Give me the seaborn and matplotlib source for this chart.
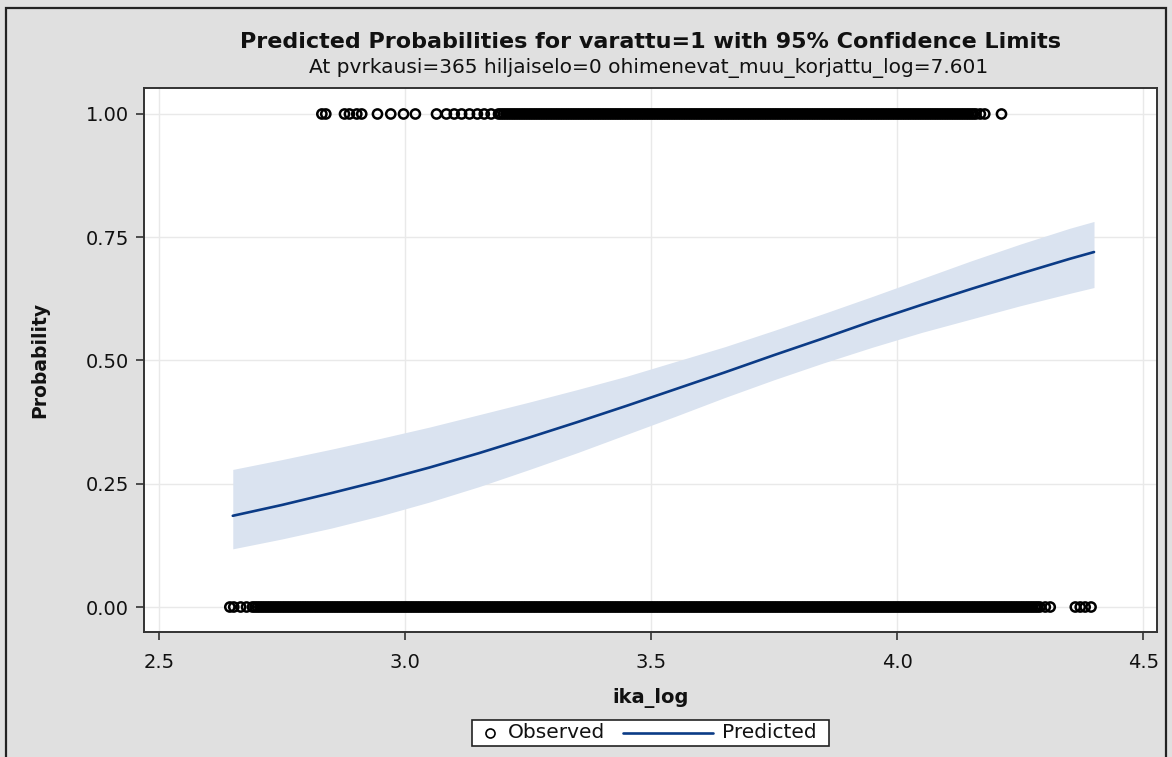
import numpy as np
import pandas as pd
import matplotlib
matplotlib.use("Agg")
import matplotlib.pyplot as plt
import seaborn as sns
from matplotlib.lines import Line2D
from matplotlib.patches import Rectangle

# ---------------- data ----------------
pred_x = [2.65, 2.75, 2.85, 2.95, 3.05, 3.15, 3.25, 3.35, 3.45, 3.55,
          3.65, 3.75, 3.85, 3.95, 4.05, 4.15, 4.25, 4.35, 4.40]
pred_p = [0.185, 0.207, 0.231, 0.256, 0.283, 0.312, 0.343, 0.375, 0.408, 0.442,
          0.476, 0.511, 0.545, 0.580, 0.613, 0.645, 0.676, 0.706, 0.720]
lower_p = [0.118, 0.138, 0.160, 0.185, 0.213, 0.244, 0.278, 0.313, 0.350, 0.387,
           0.425, 0.461, 0.495, 0.527, 0.557, 0.584, 0.611, 0.636, 0.648]
upper_p = [0.279, 0.299, 0.320, 0.342, 0.365, 0.390, 0.415, 0.441, 0.468, 0.498,
           0.528, 0.561, 0.595, 0.630, 0.666, 0.702, 0.736, 0.768, 0.782]

obs_x_one = [
    2.831, 2.839, 2.877, 2.887, 2.902, 2.912, 2.944, 2.971, 2.997, 3.021,
    3.064, 3.084, 3.100, 3.115, 3.131, 3.147, 3.161, 3.175,
    3.190, 3.195, 3.200, 3.205, 3.210, 3.215, 3.220, 3.225, 3.230, 3.235,
    3.240, 3.245, 3.250, 3.255, 3.260, 3.265, 3.270, 3.275, 3.280, 3.285,
    3.290, 3.295, 3.300, 3.305, 3.310, 3.315, 3.320, 3.325, 3.330, 3.335,
    3.340, 3.345, 3.350, 3.355, 3.360, 3.365, 3.370, 3.375, 3.380, 3.385,
    3.390, 3.395, 3.400, 3.405, 3.410, 3.415, 3.420, 3.425, 3.430, 3.435,
    3.440, 3.445, 3.450, 3.455, 3.460, 3.465, 3.470, 3.475, 3.480, 3.485,
    3.490, 3.495, 3.500, 3.505, 3.510, 3.515, 3.520, 3.525, 3.530, 3.535,
    3.540, 3.545, 3.550, 3.555, 3.560, 3.565, 3.570, 3.575, 3.580, 3.585,
    3.590, 3.595, 3.600, 3.605, 3.610, 3.615, 3.620, 3.625, 3.630, 3.635,
    3.640, 3.645, 3.650, 3.655, 3.660, 3.665, 3.670, 3.675, 3.680, 3.685,
    3.690, 3.695, 3.700, 3.705, 3.710, 3.715, 3.720, 3.725, 3.730, 3.735,
    3.740, 3.745, 3.750, 3.755, 3.760, 3.765, 3.770, 3.775, 3.780, 3.785,
    3.790, 3.795, 3.800, 3.805, 3.810, 3.815, 3.820, 3.825, 3.830, 3.835,
    3.840, 3.845, 3.850, 3.855, 3.860, 3.865, 3.870, 3.875, 3.880, 3.885,
    3.890, 3.895, 3.900, 3.905, 3.910, 3.915, 3.920, 3.925, 3.930, 3.935,
    3.940, 3.945, 3.950, 3.955, 3.960, 3.965, 3.970, 3.975, 3.980, 3.985,
    3.990, 3.995, 4.000, 4.005, 4.010, 4.015, 4.020, 4.025, 4.030, 4.035,
    4.040, 4.045, 4.050, 4.055, 4.060, 4.065, 4.070, 4.075, 4.080, 4.085,
    4.090, 4.095, 4.100, 4.105, 4.110, 4.115, 4.120, 4.125, 4.130, 4.135,
    4.140, 4.145, 4.150, 4.155, 4.160, 4.169, 4.178, 4.212]

obs_x_zero = [
    2.644, 2.652, 2.666, 2.678,
    2.690, 2.695, 2.700, 2.705, 2.710, 2.715, 2.720, 2.725, 2.730, 2.735,
    2.740, 2.745, 2.750, 2.755, 2.760, 2.765, 2.770, 2.775, 2.780, 2.785,
    2.790, 2.795, 2.800, 2.805, 2.810, 2.815, 2.820, 2.825, 2.830, 2.835,
    2.840, 2.845, 2.850, 2.855, 2.860, 2.865, 2.870, 2.875, 2.880, 2.885,
    2.890, 2.895, 2.900, 2.905, 2.910, 2.915, 2.920, 2.925, 2.930, 2.935,
    2.940, 2.945, 2.950, 2.955, 2.960, 2.965, 2.970, 2.975, 2.980, 2.985,
    2.990, 2.995, 3.000, 3.005, 3.010, 3.015, 3.020, 3.025, 3.030, 3.035,
    3.040, 3.045, 3.050, 3.055, 3.060, 3.065, 3.070, 3.075, 3.080, 3.085,
    3.090, 3.095, 3.100, 3.105, 3.110, 3.115, 3.120, 3.125, 3.130, 3.135,
    3.140, 3.145, 3.150, 3.155, 3.160, 3.165, 3.170, 3.175, 3.180, 3.185,
    3.190, 3.195, 3.200, 3.205, 3.210, 3.215, 3.220, 3.225, 3.230, 3.235,
    3.240, 3.245, 3.250, 3.255, 3.260, 3.265, 3.270, 3.275, 3.280, 3.285,
    3.290, 3.295, 3.300, 3.305, 3.310, 3.315, 3.320, 3.325, 3.330, 3.335,
    3.340, 3.345, 3.350, 3.355, 3.360, 3.365, 3.370, 3.375, 3.380, 3.385,
    3.390, 3.395, 3.400, 3.405, 3.410, 3.415, 3.420, 3.425, 3.430, 3.435,
    3.440, 3.445, 3.450, 3.455, 3.460, 3.465, 3.470, 3.475, 3.480, 3.485,
    3.490, 3.495, 3.500, 3.505, 3.510, 3.515, 3.520, 3.525, 3.530, 3.535,
    3.540, 3.545, 3.550, 3.555, 3.560, 3.565, 3.570, 3.575, 3.580, 3.585,
    3.590, 3.595, 3.600, 3.605, 3.610, 3.615, 3.620, 3.625, 3.630, 3.635,
    3.640, 3.645, 3.650, 3.655, 3.660, 3.665, 3.670, 3.675, 3.680, 3.685,
    3.690, 3.695, 3.700, 3.705, 3.710, 3.715, 3.720, 3.725, 3.730, 3.735,
    3.740, 3.745, 3.750, 3.755, 3.760, 3.765, 3.770, 3.775, 3.780, 3.785,
    3.790, 3.795, 3.800, 3.805, 3.810, 3.815, 3.820, 3.825, 3.830, 3.835,
    3.840, 3.845, 3.850, 3.855, 3.860, 3.865, 3.870, 3.875, 3.880, 3.885,
    3.890, 3.895, 3.900, 3.905, 3.910, 3.915, 3.920, 3.925, 3.930, 3.935,
    3.940, 3.945, 3.950, 3.955, 3.960, 3.965, 3.970, 3.975, 3.980, 3.985,
    3.990, 3.995, 4.000, 4.005, 4.010, 4.015, 4.020, 4.025, 4.030, 4.035,
    4.040, 4.045, 4.050, 4.055, 4.060, 4.065, 4.070, 4.075, 4.080, 4.085,
    4.090, 4.095, 4.100, 4.105, 4.110, 4.115, 4.120, 4.125, 4.130, 4.135,
    4.140, 4.145, 4.150, 4.155, 4.160, 4.165, 4.170, 4.175, 4.180, 4.185,
    4.190, 4.195, 4.200, 4.205, 4.210, 4.215, 4.220, 4.225, 4.230, 4.235,
    4.240, 4.245, 4.250, 4.255, 4.260, 4.265, 4.270, 4.275, 4.280, 4.285,
    4.290, 4.301, 4.311, 4.362, 4.372, 4.382, 4.394]

x_ticks = [2.5, 3.0, 3.5, 4.0, 4.5]
y_ticks = [0.00, 0.25, 0.50, 0.75, 1.00]
legend_labels = ["Observed", "Predicted"]

title = "Predicted Probabilities for varattu=1 with 95% Confidence Limits"
subtitle = "At pvrkausi=365 hiljaiselo=0 ohimenevat_muu_korjattu_log=7.601"

# ---------------- frames ----------------
pred_df = pd.DataFrame({"ika_log": pred_x, "Probability": pred_p,
                        "lower": lower_p, "upper": upper_p})
obs_df = pd.DataFrame({
    "ika_log": obs_x_one + obs_x_zero,
    "Probability": [1.0] * len(obs_x_one) + [0.0] * len(obs_x_zero),
})

# ---------------- style ----------------
sns.set_theme(style="white")
plt.rcParams["font.family"] = ["DejaVu Sans"]

BG = "#e0e0e0"
LINE = "#0b3b86"
BAND = "#dae3f0"
TXT = "#111111"

W, H = 1172, 757
fig = plt.figure(figsize=(W / 100, H / 100), dpi=100, facecolor=BG)
ax = fig.add_axes([144 / W, (H - 632) / H, (1157 - 144) / W, (632 - 88) / H])
ax.set_facecolor("white")

def fx(px):
    return px / W

def fy(py):
    return 1 - py / H

# outer border
fig.patches.append(Rectangle((fx(6), -0.02), fx(1166) - fx(6), fy(8) + 0.02,
                             transform=fig.transFigure, fill=False,
                             edgecolor="#222222", linewidth=1.6, zorder=0))

ax.fill_between(pred_df["ika_log"], pred_df["lower"], pred_df["upper"],
                color=BAND, linewidth=0, zorder=1)
sns.lineplot(data=pred_df, x="ika_log", y="Probability", ax=ax, color=LINE,
             linewidth=1.9, zorder=3, legend=False)
sns.scatterplot(data=obs_df, x="ika_log", y="Probability", ax=ax,
                marker="o", s=44, zorder=4, legend=False)
pts = ax.collections[-1]
pts.set_facecolor("none")
pts.set_edgecolor("black")
pts.set_linewidth(1.8)
pts.set_sizes([44])

ax.set_xlim(2.4696, 4.528)
ax.set_ylim(-0.0507, 1.0527)
ax.set_xticks(x_ticks)
ax.set_xticklabels([f"{t:.1f}" for t in x_ticks])
ax.set_yticks(y_ticks)
ax.set_yticklabels([f"{t:.2f}" for t in y_ticks])
ax.grid(True, color="#e9e9e9", linewidth=1.0, zorder=0)
ax.set_axisbelow(True)
for s in ax.spines.values():
    s.set_color("#333333")
    s.set_linewidth(1.4)
ax.tick_params(axis="both", which="major", direction="out", length=6, width=1.2,
               color="#333333", labelsize=14, labelcolor=TXT,
               bottom=True, left=True)
ax.tick_params(axis="x", pad=9)
ax.tick_params(axis="y", pad=5)

ax.set_xlabel("ika_log", fontsize=14, fontweight="bold", labelpad=12, color=TXT)
ax.set_ylabel("Probability", fontsize=13.5, fontweight="bold", labelpad=26, color=TXT)

fig.text(fx(651), fy(42), title, ha="center", va="center",
         fontsize=16, fontweight="bold", color=TXT)
fig.text(fx(649), fy(68), subtitle, ha="center", va="center",
         fontsize=14.5, color=TXT)

# legend (drawn as a framed row under the plot)
fig.patches.append(Rectangle((fx(472), fy(746)), fx(829) - fx(472), fy(720) - fy(746),
                             transform=fig.transFigure, facecolor="white",
                             edgecolor="#222222", linewidth=1.2, zorder=5))
fig.add_artist(Line2D([fx(490)], [fy(733)], marker="o", linestyle="none",
                      markerfacecolor="none", markeredgecolor="black",
                      markersize=6.5, markeredgewidth=1.2,
                      transform=fig.transFigure, zorder=6))
fig.text(fx(508), fy(733), legend_labels[0], ha="left", va="center",
         fontsize=14.5, color=TXT, zorder=6)
fig.add_artist(Line2D([fx(623), fx(713)], [fy(733), fy(733)], color=LINE,
                      linewidth=1.9, transform=fig.transFigure, zorder=6))
fig.text(fx(722), fy(733), legend_labels[1], ha="left", va="center",
         fontsize=14.5, color=TXT, zorder=6)

fig.savefig("out.png", dpi=100, facecolor=BG)
